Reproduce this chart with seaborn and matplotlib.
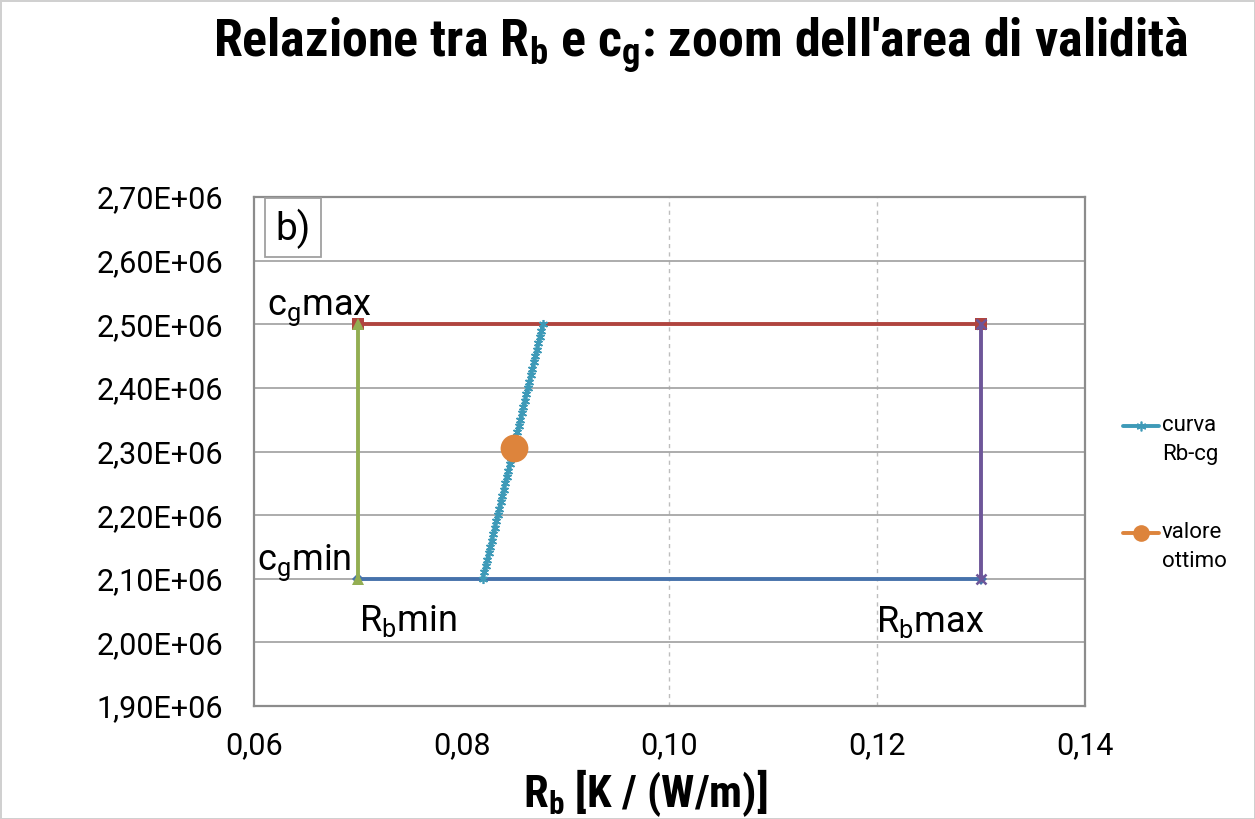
import matplotlib
matplotlib.use("Agg")
import matplotlib.pyplot as plt
from matplotlib import font_manager
from matplotlib.lines import Line2D
from matplotlib.patches import Rectangle
from matplotlib.legend_handler import HandlerLine2D
from matplotlib.ticker import FuncFormatter
import seaborn as sns

# Validity-area bounds
rb_min, rb_max = 0.07, 0.13
cg_min, cg_max = 2.10e6, 2.50e6

# Rb-cg curve
curve_cg = [2.10e6, 2.11e6, 2.12e6, 2.13e6, 2.14e6, 2.15e6, 2.16e6, 2.17e6, 2.18e6, 2.19e6,
            2.20e6, 2.21e6, 2.22e6, 2.23e6, 2.24e6, 2.25e6, 2.26e6, 2.27e6, 2.28e6, 2.29e6,
            2.30e6, 2.31e6, 2.32e6, 2.33e6, 2.34e6, 2.35e6, 2.36e6, 2.37e6, 2.38e6, 2.39e6,
            2.40e6, 2.41e6, 2.42e6, 2.43e6, 2.44e6, 2.45e6, 2.46e6, 2.47e6, 2.48e6, 2.49e6,
            2.50e6]
curve_rb = [0.08200, 0.08215, 0.08229, 0.08244, 0.08258, 0.08273, 0.08287, 0.08302, 0.08316, 0.08331,
            0.08345, 0.08360, 0.08374, 0.08389, 0.08403, 0.08418, 0.08432, 0.08447, 0.08461, 0.08476,
            0.08490, 0.08505, 0.08519, 0.08534, 0.08548, 0.08563, 0.08577, 0.08592, 0.08606, 0.08621,
            0.08635, 0.08650, 0.08664, 0.08679, 0.08693, 0.08708, 0.08722, 0.08737, 0.08751, 0.08766,
            0.08780]

# Optimum
opt_rb = [0.0850]
opt_cg = [2.305e6]

x_ticks = [0.06, 0.08, 0.10, 0.12, 0.14]
y_ticks = [1.90e6, 2.00e6, 2.10e6, 2.20e6, 2.30e6, 2.40e6, 2.50e6, 2.60e6, 2.70e6]

sns.set_theme(style="white")
installed = {f.name for f in font_manager.fontManager.ttflist}
body = [f for f in ["Roboto", "Open Sans"] if f in installed] + ["DejaVu Sans"]
narrow = [f for f in ["Liberation Sans Narrow", "Roboto Condensed"] if f in installed] + body
plt.rcParams["font.family"] = body
plt.rcParams["mathtext.default"] = "regular"
for k in ["text.color", "axes.labelcolor", "xtick.color", "ytick.color"]:
    plt.rcParams[k] = "black"

C_BLUE = "#4672AB"
C_RED = "#B0443F"
C_GREEN = "#93AE52"
C_PURPLE = "#6E5699"
C_TEAL = "#3E9AB8"
C_ORANGE = "#DD843C"

fig = plt.figure(figsize=(12.55, 8.19), dpi=100)
fig.patch.set_edgecolor("#D0D0D0")
fig.patch.set_linewidth(2)
ax = fig.add_axes([254 / 1255, 1 - 706 / 819, 831 / 1255, 509 / 819])

lw = 2.8
sns.lineplot(x=[rb_min, rb_max], y=[cg_min, cg_min], estimator=None, sort=False, ax=ax,
             color=C_BLUE, lw=lw, marker="D", markersize=6, markeredgewidth=0)
sns.lineplot(x=[rb_min, rb_max], y=[cg_max, cg_max], estimator=None, sort=False, ax=ax,
             color=C_RED, lw=lw, marker="s", markersize=9, markeredgewidth=0)
sns.lineplot(x=[rb_min, rb_min], y=[cg_min, cg_max], estimator=None, sort=False, ax=ax,
             color=C_GREEN, lw=lw, marker="^", markersize=9, markeredgewidth=0)
sns.lineplot(x=[rb_max, rb_max], y=[cg_min, cg_max], estimator=None, sort=False, ax=ax,
             color=C_PURPLE, lw=lw, marker="x", markersize=7, markeredgewidth=1.8,
             markeredgecolor=C_PURPLE)
sns.lineplot(x=curve_rb, y=curve_cg, estimator=None, sort=False, ax=ax,
             color=C_TEAL, lw=lw, marker=(6, 2, 0), markersize=6.5, markeredgewidth=1.2,
             markeredgecolor=C_TEAL)
sns.lineplot(x=opt_rb, y=opt_cg, estimator=None, sort=False, ax=ax,
             color=C_ORANGE, lw=lw, marker="o", markersize=20, markeredgewidth=0)

ax.set_xlim(0.06, 0.14)
ax.set_ylim(1.90e6, 2.70e6)
ax.set_xticks(x_ticks)
ax.set_yticks(y_ticks)
ax.xaxis.set_major_formatter(FuncFormatter(lambda v, p: f"{v:.2f}".replace(".", ",")))
ax.yaxis.set_major_formatter(FuncFormatter(lambda v, p: f"{v:.2E}".replace(".", ",")))
ax.tick_params(axis="both", length=0, labelsize=22, colors="black")
ax.tick_params(axis="x", pad=18)
ax.tick_params(axis="y", pad=22)

# Horizontal grid solid, vertical dashed at 0.10 / 0.12
ax.yaxis.grid(True, color="#A6A6A6", lw=1.3)
ax.xaxis.grid(False)
for xv in x_ticks[2:4]:
    ax.axvline(xv, color="#BEBEBE", lw=1.0, ls=(0, (3, 3)), zorder=0.5)
ax.set_axisbelow(True)
for s in ax.spines.values():
    s.set_color("#8C8C8C")
    s.set_linewidth(1.6)

ax.set_xlabel("")
ax.set_ylabel("")

# Corner labels
lab = dict(ha="center", va="baseline", textcoords="offset pixels", fontsize=26, color="black")
ax.annotate("$c_g$max", xy=(rb_min, cg_max), xytext=(-38, 9), **lab)
ax.annotate("$c_g$min", xy=(rb_min, cg_min), xytext=(-54, 9), **lab)
ax.annotate("$R_b$min", xy=(rb_min, cg_min), xytext=(50, -52), **lab)
ax.annotate("$R_b$max", xy=(rb_max, cg_min), xytext=(-51, -53), **lab)

# Panel tag
ax.add_patch(Rectangle((0.0132, 0.882), 0.0674, 0.116, transform=ax.transAxes,
                       fc="white", ec="#A0A0A0", lw=1.3, zorder=3))
ax.text(0.0469, 0.938, "b)", transform=ax.transAxes, fontsize=28, va="center",
        ha="center", zorder=4)

fig.text(701 / 1255, 1 - 57 / 819, "Relazione tra $R_b$ e $c_g$: zoom dell'area di validità",
         ha="center", va="baseline", fontsize=37.5, fontweight="bold", family=narrow)
fig.text(645 / 1255, 1 - 807 / 819, "$R_b$ [K / (W/m)]", ha="center", va="baseline",
         fontsize=32, fontweight="bold", family=narrow)


class FirstLineHandler(HandlerLine2D):
    """Legend handle aligned with the first line of a two-line label."""
    def create_artists(self, legend, orig_handle, xdescent, ydescent, width, height,
                       fontsize, trans):
        arts = super().create_artists(legend, orig_handle, xdescent, ydescent, width,
                                      height, fontsize, trans)
        for a in arts:
            a.set_ydata([y + 0.62 * fontsize for y in a.get_ydata()])
        return arts


handles = [
    Line2D([], [], color=C_TEAL, lw=lw, marker=(6, 2, 0), markersize=7, markeredgewidth=1.2),
    Line2D([], [], color=C_ORANGE, lw=lw, marker="o", markersize=12, markeredgewidth=0),
]
leg = fig.legend(handles, ["curva\nRb-cg", "valore\nottimo"], loc="upper left",
                 bbox_to_anchor=(1103 / 1255, 1 - 395 / 819), frameon=False, fontsize=16,
                 handlelength=1.6, handletextpad=0.15, labelspacing=2.55,
                 handler_map={Line2D: FirstLineHandler()})
for t in leg.get_texts():
    t.set_linespacing(1.5)

fig.savefig("out.png", dpi=100)
